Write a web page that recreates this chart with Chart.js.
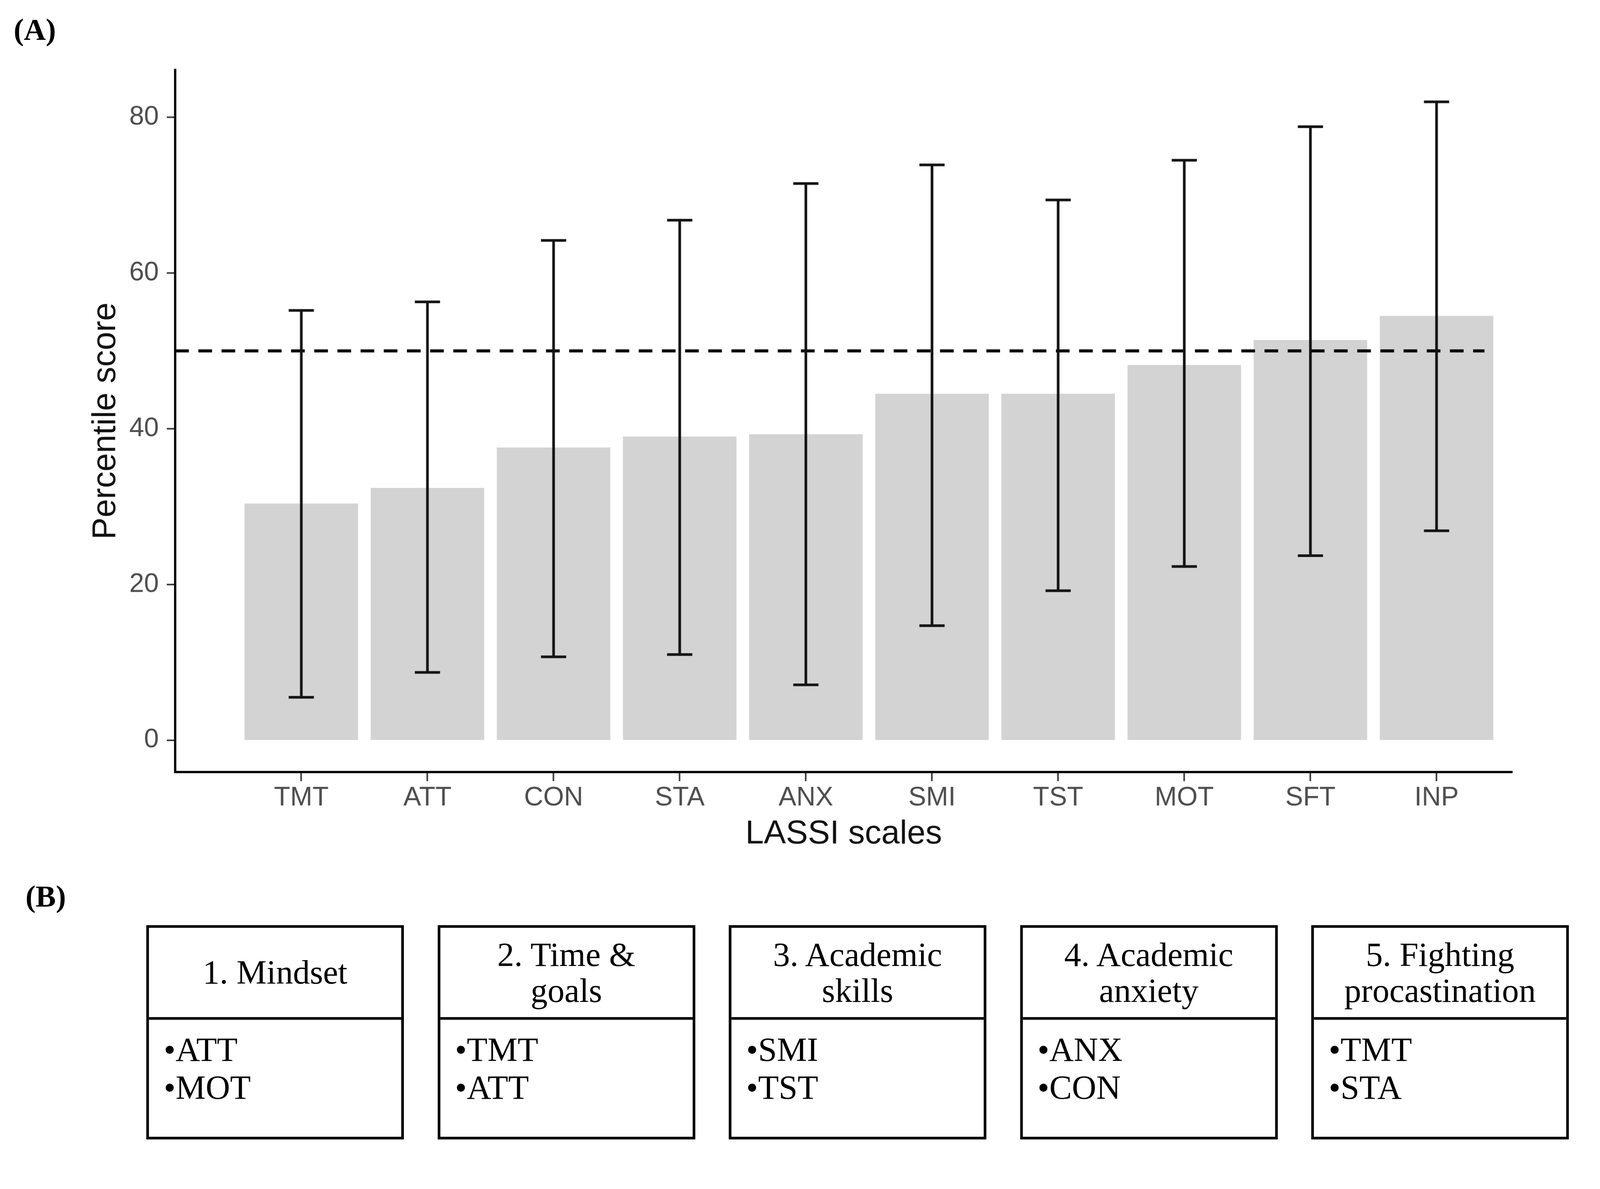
<!DOCTYPE html>
<html>
<head>
<meta charset="utf-8">
<script src="https://cdn.jsdelivr.net/npm/chart.js@4.4.0/dist/chart.umd.min.js"></script>
<style>
  html, body { margin: 0; padding: 0; background: #fff; overflow: hidden; }
  #page { position: absolute; left: 0; top: 0; width: 4211px; height: 3044px; transform-origin: 0 0;
          font-family: "Liberation Serif", "Times New Roman", serif; color: #000; background: #fff; }
  #plotWrap { position: absolute; left: 0; top: 0; width: 4211px; height: 2300px; }
  .panel { position: absolute; font-weight: bold; font-size: 80px; line-height: 80px; }
  .box { position: absolute; top: 2435px; width: 678px; height: 564px;
         border: 7px solid #000; box-sizing: border-box; font-size: 89px; }
  .box .head { height: 235px; border-bottom: 7px solid #000; display: flex;
               align-items: center; justify-content: center; text-align: center; line-height: 95px; }
  .box .body { padding: 28px 0 0 39px; line-height: 100px; }
</style>
</head>
<body>
<div id="page">
  <div class="panel" style="left:36px; top:38px;">(A)</div>
  <div id="plotWrap"><canvas id="plot"></canvas></div>
  <div class="panel" style="left:67px; top:2319px;">(B)</div>
  <div id="groups"></div>
</div>

<script>
'use strict';

// panel A data
var lassiScales = ['TMT', 'ATT', 'CON', 'STA', 'ANX', 'SMI', 'TST', 'MOT', 'SFT', 'INP'];
var meanScore = [30.4, 32.4, 37.6, 39.0, 39.3, 44.5, 44.5, 48.2, 51.4, 54.5];
var lowerBar = [5.5, 8.7, 10.7, 11.0, 7.1, 14.7, 19.2, 22.3, 23.7, 26.9];
var upperBar = [55.2, 56.3, 64.2, 66.8, 71.5, 73.9, 69.4, 74.5, 78.8, 82.0];
var yTicks = [0, 20, 40, 60, 80];
var referenceLine = 50;
var referenceSpan = [0, 10.38];

// panel B groups
var groupTitles = ['1. Mindset', '2. Time &<br>goals', '3. Academic<br>skills', '4. Academic<br>anxiety', '5. Fighting<br>procastination'];
var groupItems = [['ATT', 'MOT'], ['TMT', 'ATT'], ['SMI', 'TST'], ['ANX', 'CON'], ['TMT', 'STA']];

// keep the 4211x3044 layout inside whatever viewport we get
var page = document.getElementById('page');
var fit = Math.min(window.innerWidth / 4211, window.innerHeight / 3044);
if (Math.abs(fit - 1) > 0.001) {
  page.style.transform = 'scale(' + fit + ')';
}

var groups = document.getElementById('groups');
groupTitles.forEach(function(title, i) {
  var box = document.createElement('div');
  box.className = 'box';
  box.style.left = (385 + i * 766.5) + 'px';
  box.innerHTML = '<div class="head"><div>' + title + '</div></div>' +
    '<div class="body">' + groupItems[i].map(function(s) { return '\u2022' + s; }).join('<br>') + '</div>';
  groups.appendChild(box);
});

var errorBars = {
  id: 'errorBars',
  afterDatasetsDraw: function(chart) {
    var ctx = chart.ctx;
    var x = chart.scales.x;
    var y = chart.scales.y;
    var half = x.getPixelForValue(1.1) - x.getPixelForValue(1);
    ctx.save();
    ctx.strokeStyle = '#141414';
    ctx.lineWidth = 7;
    lassiScales.forEach(function(s, i) {
      var px = x.getPixelForValue(i + 1);
      var top = y.getPixelForValue(upperBar[i]);
      var bot = y.getPixelForValue(lowerBar[i]);
      ctx.beginPath();
      ctx.moveTo(px, top); ctx.lineTo(px, bot);
      ctx.moveTo(px - half, top); ctx.lineTo(px + half, top);
      ctx.moveTo(px - half, bot); ctx.lineTo(px + half, bot);
      ctx.stroke();
    });
    ctx.restore();
  }
};

var sans = 'Liberation Sans, Arial, sans-serif';

new Chart(document.getElementById('plot'), {
  type: 'bar',
  data: {
    datasets: [{
      type: 'bar',
      data: lassiScales.map(function(s, i) { return { x: i + 1, y: meanScore[i] }; }),
      backgroundColor: '#D3D3D3',
      borderWidth: 0,
      categoryPercentage: 1,
      barPercentage: 0.9,
      order: 2
    },
    {
      type: 'line',
      data: referenceSpan.map(function(v) { return { x: v, y: referenceLine }; }),
      borderColor: '#000',
      borderWidth: 8,
      borderDash: [36, 25],
      pointRadius: 0,
      fill: false,
      order: 1
    }]
  },
  options: {
    responsive: true,
    maintainAspectRatio: false,
    animation: false,
    layout: { padding: { top: 184, right: 231, left: 0, bottom: 0 } },
    plugins: { legend: { display: false }, tooltip: { enabled: false } },
    scales: {
      x: {
        type: 'linear', min: 0, max: 10.6, offset: false,
        afterBuildTicks: function(s) { s.ticks = lassiScales.map(function(_, i) { return { value: i + 1 }; }); },
        afterFit: function(s) { s.height = 268; },
        ticks: {
          callback: function(v, i) { return lassiScales[i]; },
          color: '#4d4d4d', font: { family: sans, size: 70 }, padding: 3,
          maxRotation: 0, autoSkip: false
        },
        grid: { drawOnChartArea: false, offset: false, tickLength: 24, tickColor: '#333', tickWidth: 4 },
        border: { color: '#000', width: 6 },
        title: {
          display: true, text: 'LASSI scales', color: '#111',
          font: { family: sans, size: 87, lineHeight: 1 }, padding: { top: 0, bottom: 60 }
        }
      },
      y: {
        type: 'linear', min: -4.1, max: 86.1,
        afterBuildTicks: function(s) { s.ticks = yTicks.map(function(v) { return { value: v }; }); },
        afterFit: function(s) { s.width = 461; },
        ticks: { color: '#4d4d4d', font: { family: sans, size: 70 }, padding: 21 },
        grid: { drawOnChartArea: false, tickLength: 22, tickColor: '#333', tickWidth: 4 },
        border: { color: '#000', width: 6 },
        title: {
          display: true, text: 'Percentile score', color: '#111',
          font: { family: sans, size: 87, lineHeight: 1 }, padding: { top: 236, bottom: 0 }
        }
      }
    }
  },
  plugins: [errorBars]
});
</script>
</body>
</html>
